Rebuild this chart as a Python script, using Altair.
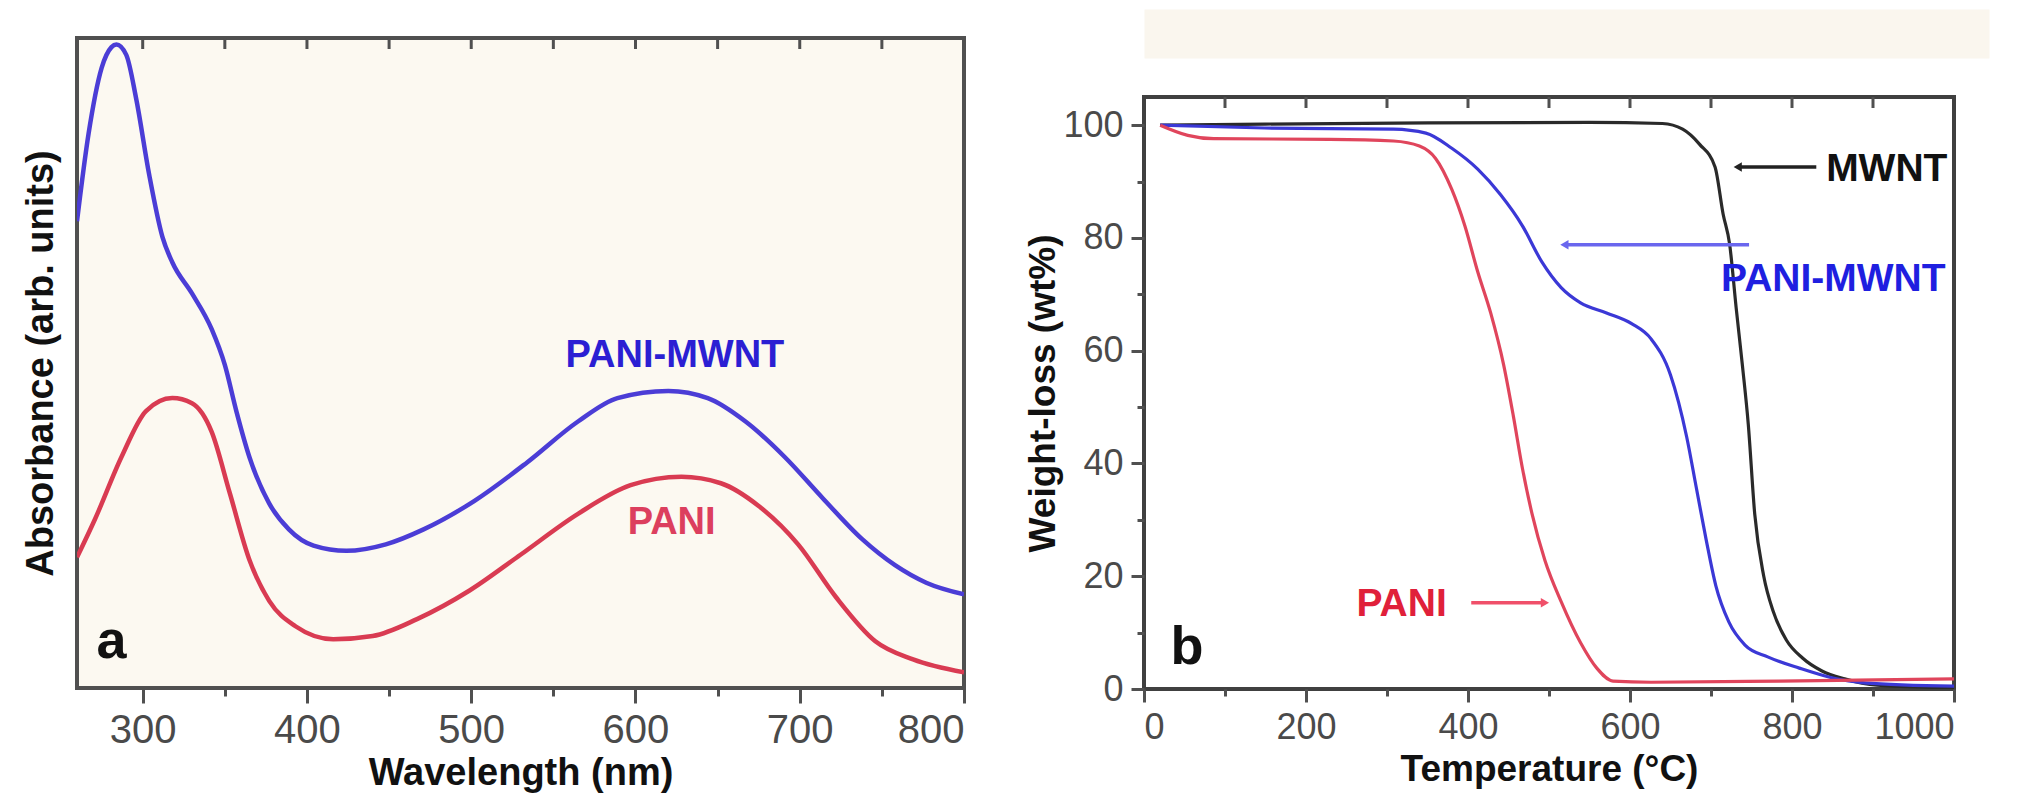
import altair as alt
import pandas as pd

FONT = "Liberation Sans"

# ---------------- panel a : absorbance spectra ----------------
wl_mwnt = [260, 267, 275, 281, 284, 290, 296, 304, 312, 318, 330, 342, 350, 357, 365, 377, 389, 404, 424,
           448, 471, 502, 534, 565, 589, 620, 644, 667, 691, 714, 738, 758, 777, 800]
ab_mwnt = [71.8, 85.2, 95.4, 98.6, 99.0, 97.4, 90.7, 78.9, 69.4, 65.5, 60.7, 55.2, 49.7, 42.6, 35.5, 28.4,
           24.4, 21.9, 21.1, 22.1, 24.4, 28.8, 34.7, 41.0, 44.6, 45.7, 44.6, 41.0, 35.5, 29.2, 22.9, 18.9,
           16.2, 14.4]
wl_pani = [260, 271, 287, 302, 318, 330, 342, 353, 365, 377, 393, 416, 440, 467, 499, 530, 565, 597, 628,
           652, 675, 699, 722, 746, 769, 800]
ab_pani = [20.1, 26.0, 35.5, 42.6, 44.6, 43.8, 39.4, 30.0, 19.7, 13.4, 9.5, 7.5, 8.0, 10.6, 15.0, 20.5,
           26.8, 31.2, 32.5, 31.5, 28.0, 22.1, 14.0, 7.2, 4.4, 2.4]

a_series = ["PANI-MWNT", "PANI"]
a_colors = ["#4b3dd6", "#d93b52"]
a_lbl_text = ["PANI-MWNT", "PANI"]
a_lbl_x = [624, 622]
a_lbl_y = [51.1, 25.4]
a_lbl_color = ["#2b1fd3", "#dc3f5e"]
a_letter = ["a"]
a_letter_x = [281]
a_letter_y = [4.6]
a_top_ticks = [300, 350, 400, 450, 500, 550, 600, 650, 700, 750]

# ---------------- panel b : TGA ----------------
t_mwnt = [20, 150, 350, 550, 640, 665, 686, 705, 715, 723, 731, 739, 746, 754, 765, 777, 793, 813, 837,
          865, 905, 1000]
w_mwnt = [100.0, 100.2, 100.4, 100.5, 100.3, 99.3, 96.6, 92.6, 84.2, 78.9, 67.7, 57.1, 47.0, 31.0, 20.1,
          13.7, 8.7, 5.5, 3.2, 1.8, 0.7, 0.2]
t_pm = [20, 149, 308, 348, 380, 412, 440, 467, 491, 515, 539, 571, 602, 626, 650, 670, 682, 694, 706, 722,
        742, 770, 809, 849, 889, 1000]
w_pm = [100.0, 99.5, 99.3, 98.6, 95.9, 92.2, 87.7, 82.2, 75.8, 71.2, 68.5, 66.7, 64.8, 62.1, 55.7, 44.7,
        35.6, 26.5, 18.3, 11.9, 7.8, 5.7, 3.7, 2.0, 1.1, 0.5]
t_pani = [20, 54, 86, 229, 308, 340, 360, 380, 396, 412, 428, 444, 456, 467, 479, 495, 515, 539, 559, 579,
          626, 785, 1000]
w_pani = [100.0, 98.2, 97.6, 97.5, 97.2, 96.3, 94.1, 88.6, 82.2, 74.0, 66.7, 57.5, 48.4, 39.3, 31.1, 22.8,
          15.5, 8.2, 3.7, 1.4, 1.2, 1.4, 1.8]

b_series = ["MWNT", "PANI-MWNT", "PANI"]
b_colors = ["#2a2a2a", "#3b38d6", "#e0455c"]
b_lbl_text = ["MWNT", "PANI-MWNT", "PANI"]
b_lbl_x = [917, 851, 318]
b_lbl_y = [92.2, 72.7, 15.1]
b_lbl_color = ["#111111", "#1f1fe0", "#e0203a"]
arr_tail = [830, 747, 404]
arr_head = [733, 519, 495]
arr_y = [92.6, 78.8, 15.3]
arr_color = ["#222222", "#6a66ee", "#f0506a"]
arr_shape = ["triangle-left", "triangle-left", "triangle-right"]
b_letter = ["b"]
b_letter_x = [53]
b_letter_y = [4.4]
b_top_ticks = [100, 200, 300, 400, 500, 600, 700, 800, 900]

# ---------------- frames ----------------
df_a = pd.DataFrame({
    "wl": wl_mwnt + wl_pani,
    "ab": ab_mwnt + ab_pani,
    "series": [a_series[0]] * len(wl_mwnt) + [a_series[1]] * len(wl_pani),
})
df_a_lbl = pd.DataFrame({"wl": a_lbl_x, "ab": a_lbl_y, "text": a_lbl_text, "color": a_lbl_color})
df_a_let = pd.DataFrame({"wl": a_letter_x, "ab": a_letter_y, "text": a_letter})
df_a_top = pd.DataFrame({"wl": a_top_ticks})

df_b = pd.DataFrame({
    "t": t_mwnt + t_pm + t_pani,
    "w": w_mwnt + w_pm + w_pani,
    "series": [b_series[0]] * len(t_mwnt) + [b_series[1]] * len(t_pm) + [b_series[2]] * len(t_pani),
})
df_b_lbl = pd.DataFrame({"t": b_lbl_x, "w": b_lbl_y, "text": b_lbl_text, "color": b_lbl_color})
df_b_arr = pd.DataFrame({"t": arr_tail, "t2": arr_head, "w": arr_y, "color": arr_color, "shape": arr_shape})
df_b_let = pd.DataFrame({"t": b_letter_x, "w": b_letter_y, "text": b_letter})
df_b_top = pd.DataFrame({"t": b_top_ticks})

AX = "#505050"
LBL = "#4a4a4a"

# ---------------- panel a chart ----------------
sx_a = alt.Scale(domain=[260, 800], nice=False, zero=False)
sy_a = alt.Scale(domain=[0, 100], nice=False, zero=False)

ax_a_bottom = alt.Axis(
    orient="bottom", values=list(range(300, 801, 50)),
    labelExpr="datum.value % 100 === 0 ? datum.label : ''",
    tickSize={"condition": {"test": "datum.value % 100 === 0", "value": 15}, "value": 8},
    tickWidth=3, tickColor=AX, domain=False, grid=False,
    labelFont=FONT, labelFontSize=40, labelColor=LBL, labelPadding=7,
    title="Wavelength (nm)", titleFont=FONT, titleFontSize=38, titleFontWeight="bold",
    titleColor="#111111", titlePadding=4,
)
ax_a_left = alt.Axis(
    orient="left", labels=False, ticks=False, domain=False, grid=False,
    title="Absorbance (arb. units)", titleFont=FONT, titleFontSize=38, titleFontWeight="bold",
    titleColor="#111111", titlePadding=17,
)
XA = dict(scale=sx_a, axis=ax_a_bottom)
YA = dict(scale=sy_a, axis=ax_a_left)

lines_a = alt.Chart(df_a).mark_line(strokeWidth=4.5, interpolate="monotone", clip=True).encode(
    x=alt.X("wl:Q", **XA),
    y=alt.Y("ab:Q", **YA),
    color=alt.Color("series:N", scale=alt.Scale(domain=a_series, range=a_colors), legend=None),
)
top_a = alt.Chart(df_a_top).mark_rule(strokeWidth=3, color=AX).encode(
    x=alt.X("wl:Q", **XA),
    y=alt.value(0),
    y2=alt.value(11),
)
text_a = alt.Chart(df_a_lbl).mark_text(font=FONT, fontSize=38, fontWeight="bold", align="center",
                                       baseline="middle").encode(
    x=alt.X("wl:Q", **XA),
    y=alt.Y("ab:Q", **YA),
    text="text:N",
    color=alt.Color("color:N", scale=None),
)
letter_a = alt.Chart(df_a_let).mark_text(font=FONT, fontSize=54, fontWeight="bold", align="center",
                                         baseline="alphabetic", color="#111111").encode(
    x=alt.X("wl:Q", **XA),
    y=alt.Y("ab:Q", **YA),
    text="text:N",
)
panel_a = alt.layer(lines_a, top_a, text_a, letter_a).resolve_scale(color="independent").properties(
    width=887, height=650, view=alt.ViewBackground(fill="#fcf9f1", stroke=AX, strokeWidth=4))

# ---------------- panel b chart ----------------
sx_b = alt.Scale(domain=[0, 1000], nice=False, zero=False)
sy_b = alt.Scale(domain=[0, 105], nice=False, zero=False)

ax_b_bottom = alt.Axis(
    orient="bottom", values=list(range(0, 1001, 100)), format="d",
    labelExpr="datum.value % 200 === 0 ? datum.label : ''",
    tickSize={"condition": {"test": "datum.value % 200 === 0", "value": 13}, "value": 7},
    tickWidth=3, tickColor=AX, domain=False, grid=False,
    labelFont=FONT, labelFontSize=36, labelColor=LBL, labelPadding=8,
    title="Temperature (\u00b0C)", titleFont=FONT, titleFontSize=37, titleFontWeight="bold",
    titleColor="#111111", titlePadding=6,
)
ax_b_left = alt.Axis(
    orient="left", values=list(range(0, 101, 10)), format="d",
    labelExpr="datum.value % 20 === 0 ? datum.label : ''",
    tickSize={"condition": {"test": "datum.value % 20 === 0", "value": 13}, "value": 7},
    tickWidth=3, tickColor=AX, domain=False, grid=False,
    labelFont=FONT, labelFontSize=36, labelColor=LBL, labelPadding=8,
    title="Weight-loss (wt%)", titleFont=FONT, titleFontSize=37, titleFontWeight="bold",
    titleColor="#111111", titlePadding=0,
)
XB = dict(scale=sx_b, axis=ax_b_bottom)
YB = dict(scale=sy_b, axis=ax_b_left)

lines_b = alt.Chart(df_b).mark_line(strokeWidth=3.2, interpolate="monotone", clip=True).encode(
    x=alt.X("t:Q", **XB),
    y=alt.Y("w:Q", **YB),
    color=alt.Color("series:N", scale=alt.Scale(domain=b_series, range=b_colors), legend=None),
)
top_b = alt.Chart(df_b_top).mark_rule(strokeWidth=3, color=AX).encode(
    x=alt.X("t:Q", **XB),
    y=alt.value(0),
    y2=alt.value(11),
)
arrows_b = alt.Chart(df_b_arr).mark_rule(strokeWidth=3.5).encode(
    x=alt.X("t:Q", **XB),
    x2="t2:Q",
    y=alt.Y("w:Q", **YB),
    color=alt.Color("color:N", scale=None),
)
heads_b = alt.Chart(df_b_arr).mark_point(filled=True, size=90, opacity=1).encode(
    x=alt.X("t2:Q", **XB),
    y=alt.Y("w:Q", **YB),
    color=alt.Color("color:N", scale=None),
    shape=alt.Shape("shape:N", scale=None),
)
text_b = alt.Chart(df_b_lbl).mark_text(font=FONT, fontSize=39, fontWeight="bold", align="center",
                                       baseline="middle").encode(
    x=alt.X("t:Q", **XB),
    y=alt.Y("w:Q", **YB),
    text="text:N",
    color=alt.Color("color:N", scale=None),
)
letter_b = alt.Chart(df_b_let).mark_text(font=FONT, fontSize=54, fontWeight="bold", align="center",
                                         baseline="alphabetic", color="#111111").encode(
    x=alt.X("t:Q", **XB),
    y=alt.Y("w:Q", **YB),
    text="text:N",
)
panel_b = alt.layer(lines_b, top_b, arrows_b, heads_b, text_b, letter_b).resolve_scale(
    color="independent", shape="independent"
).properties(width=810, height=592,
             view=alt.ViewBackground(fill="#ffffff", stroke="#404040", strokeWidth=4))

# ---------------- spacers (page background bands) ----------------
spacer_a = alt.Chart(pd.DataFrame({"v": [0]})).mark_point(opacity=0).properties(
    width=880, height=24, view=alt.ViewBackground(fill="#ffffff", stroke="transparent"))
spacer_b = alt.Chart(pd.DataFrame({"v": [0]})).mark_point(opacity=0).properties(
    width=845, height=49, view=alt.ViewBackground(fill="#faf6ee", stroke="transparent"))

chart = alt.hconcat(
    alt.vconcat(spacer_a, panel_a, spacing=0),
    alt.vconcat(spacer_b, panel_b, spacing=34),
    spacing=54,
).properties(
    padding={"left": 12, "top": 0, "right": 0, "bottom": 0},
    background="#ffffff",
)

chart.save("out.html", embed_options={"renderer": "svg", "actions": False})
